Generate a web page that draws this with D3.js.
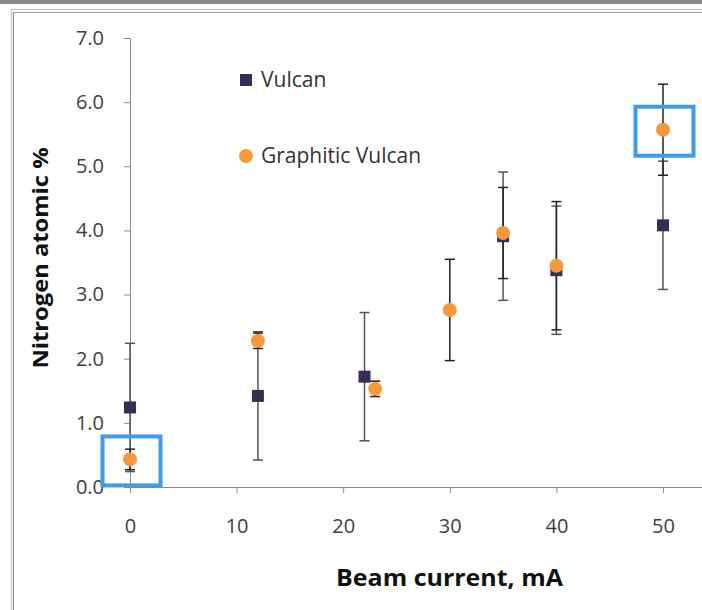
<!DOCTYPE html>
<html><head><meta charset="utf-8">
<script src="https://cdn.jsdelivr.net/npm/d3@7"></script>
<style>
html,body{margin:0;padding:0;background:#fff;}
svg{display:block;font-family:"Open Sans",sans-serif;}
</style></head>
<body><svg id="c" width="702" height="610"></svg>
<script>
// ---- data ----
const vulcanX   = [0, 12, 22, 35, 40, 50];
const vulcanY   = [1.24, 1.42, 1.72, 3.91, 3.38, 4.08];
const vulcanErr = [1.0, 1.0, 1.0, 1.0, 1.0, 1.0];

const graphX    = [0, 12, 23, 30, 35, 40, 50];
const graphY    = [0.43, 2.28, 1.53, 2.76, 3.96, 3.45, 5.57];
const graphErr  = [0.16, 0.12, 0.12, 0.79, 0.71, 1.0, 0.71];

const xTicks = [0, 10, 20, 30, 40, 50];
const yTicks = [0, 1, 2, 3, 4, 5, 6, 7];
const highlightX = [0, 50];
const highlightY = [0.43, 5.57];
const seriesNames = ["Vulcan", "Graphitic Vulcan"];

// ---- drawing ----
const svg = d3.select("#c");
const x = d3.scaleLinear().domain([0, 10]).range([130, 236.6]);
const y = d3.scaleLinear().domain([0, 7]).range([487, 38]);

// frame
svg.append("rect").attr("x",0).attr("y",0).attr("width",702).attr("height",4).attr("fill","#8a8a8a");
svg.append("line").attr("x1",11).attr("x2",702).attr("y1",9.5).attr("y2",9.5).attr("stroke","#c8c8c8").attr("stroke-width",1.5);
svg.append("line").attr("x1",13).attr("x2",702).attr("y1",12.5).attr("y2",12.5).attr("stroke","#9a9a9a").attr("stroke-width",1);
svg.append("line").attr("x1",11.5).attr("x2",11.5).attr("y1",9).attr("y2",610).attr("stroke","#c8c8c8").attr("stroke-width",1.5);
svg.append("line").attr("x1",13.5).attr("x2",13.5).attr("y1",12).attr("y2",610).attr("stroke","#8a8a8a").attr("stroke-width",1);

// axes
const yAxis = d3.axisLeft(y).tickValues(yTicks).tickFormat(d3.format(".1f")).tickSize(6).tickPadding(20);
const gy = svg.append("g").attr("transform","translate(130,0)").call(yAxis);
gy.select(".domain").attr("stroke","#8c8c8c");
gy.selectAll(".tick line").attr("stroke","#8c8c8c");
gy.selectAll("text").attr("font-size",20).attr("fill","#404040").attr("font-family","Open Sans");

const xAxis = d3.axisBottom(x).tickValues(xTicks).tickSize(6).tickPadding(26).tickSizeOuter(0);
const gx = svg.append("g").attr("transform","translate(0,487)").call(xAxis);
gx.select(".domain").attr("d","M130,0.5H702").attr("stroke","#8c8c8c");
gx.selectAll(".tick line").attr("stroke","#8c8c8c");
gx.selectAll("text").attr("font-size",20).attr("fill","#404040").attr("font-family","Open Sans");

// titles
svg.append("text").attr("x",449.5).attr("y",586).attr("text-anchor","middle")
  .attr("font-size",23).attr("font-weight","bold").attr("fill","#111")
  .attr("textLength",227).attr("lengthAdjust","spacingAndGlyphs").text("Beam current, mA");
svg.append("text").attr("transform","translate(48,258) rotate(-90)").attr("text-anchor","middle")
  .attr("font-size",22).attr("font-weight","bold").attr("fill","#111")
  .attr("textLength",221).attr("lengthAdjust","spacingAndGlyphs").text("Nitrogen atomic %");

// error bars
function errBars(xs, ys, es, color) {
  const g = svg.append("g").attr("stroke", color).attr("stroke-width", 1.5);
  xs.forEach((xv, i) => {
    const cx = x(xv), top = y(ys[i] + es[i]), bot = y(Math.max(0, ys[i] - es[i]));
    g.append("line").attr("x1",cx).attr("x2",cx).attr("y1",top).attr("y2",bot);
    g.append("line").attr("x1",cx-5).attr("x2",cx+5).attr("y1",top).attr("y2",top);
    g.append("line").attr("x1",cx-5).attr("x2",cx+5).attr("y1",bot).attr("y2",bot);
  });
}
errBars(vulcanX, vulcanY, vulcanErr, "#555");
errBars(graphX, graphY, graphErr, "#222");

// markers
const vCol = "#3a2d55", gCol = "#f7983a";
svg.append("g").selectAll("rect").data(vulcanX).join("rect")
  .attr("x", (d) => x(d) - 6).attr("y", (d, i) => y(vulcanY[i]) - 6)
  .attr("width", 12).attr("height", 12).attr("fill", vCol);
svg.append("g").selectAll("circle").data(graphX).join("circle")
  .attr("cx", (d) => x(d)).attr("cy", (d, i) => y(graphY[i])).attr("r", 7).attr("fill", gCol);

// highlight boxes
svg.append("g").selectAll("rect").data(highlightX).join("rect")
  .attr("x", (d) => x(d) - 27.5).attr("y", (d, i) => y(highlightY[i]) - 23)
  .attr("width", 58).attr("height", 49)
  .attr("fill", "none").attr("stroke", "#3d9cec").attr("stroke-width", 4);

// legend
const lg = svg.append("g");
lg.append("rect").attr("x",240).attr("y",74).attr("width",12).attr("height",12).attr("fill",vCol);
lg.append("text").attr("x",261).attr("y",87).attr("font-size",21).attr("fill","#333").text(seriesNames[0]);
lg.append("circle").attr("cx",246).attr("cy",156).attr("r",7).attr("fill",gCol);
lg.append("text").attr("x",261).attr("y",163).attr("font-size",21).attr("fill","#333").text(seriesNames[1]);
</script></body></html>
